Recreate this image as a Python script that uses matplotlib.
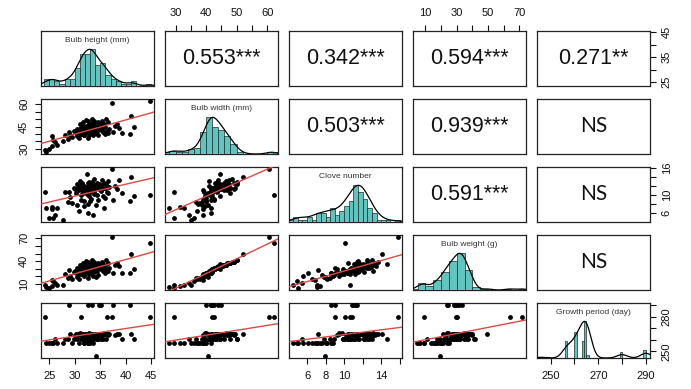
import numpy as np
import matplotlib
matplotlib.use("Agg")
import matplotlib.pyplot as plt

plt.rcParams['font.family'] = ['Liberation Sans', 'DejaVu Sans']

# ---------------- data (one entry per accession) ----------------
bulb_height = [24.2, 24.3, 24.9, 25.5, 25.8, 25.5, 26.5, 26.2, 27.6, 28.1,
               28.6, 29.1, 29.4, 29.8, 28.9, 30.2, 30.5, 30.7, 30.9, 30.4,
               30.8, 30.1, 31.0, 31.2, 31.3, 31.3, 31.5, 31.6, 31.7, 31.8,
               31.4, 31.9, 31.1, 31.6, 31.8, 31.5, 32.0, 32.2, 32.3, 32.4,
               32.5, 32.6, 32.6, 32.7, 32.8, 32.9, 32.1, 32.5, 32.8, 33.0,
               33.1, 33.2, 33.3, 33.4, 33.5, 33.5, 33.6, 33.7, 33.8, 33.2,
               33.9, 33.6, 33.3, 33.0, 33.8, 33.4, 33.7, 34.1, 34.2, 34.4,
               34.5, 34.7, 34.3, 34.8, 34.6, 35.0, 35.2, 35.4, 35.5, 35.6,
               35.3, 35.8, 35.1, 35.7, 35.9, 36.0, 36.3, 36.5, 36.8, 36.2,
               36.6, 37.2, 37.5, 37.8, 38.2, 38.6, 39.2, 40.8, 41.1, 41.6,
               44.7]
bulb_width = [29.5, 27.9, 29.6, 31.6, 35.9, 38.9, 32.7, 34.5, 35.1, 39.4,
              36.8, 39.5, 38.0, 42.0, 41.5, 40.5, 38.5, 43.0, 39.0, 43.5,
              37.0, 41.5, 42.0, 45.0, 40.0, 42.5, 46.0, 42.0, 48.0, 39.0,
              44.0, 41.0, 46.5, 41.5, 39.5, 44.5, 43.0, 45.5, 44.5, 41.5,
              49.0, 41.5, 44.0, 39.5, 47.0, 42.0, 49.5, 37.5, 43.5, 45.0,
              41.5, 46.5, 43.0, 47.5, 39.0, 44.0, 46.0, 41.0, 48.5, 42.5,
              44.5, 42.0, 50.0, 40.0, 43.5, 42.0, 47.0, 40.5, 45.5, 43.0,
              48.0, 45.0, 42.0, 44.0, 39.0, 46.0, 42.5, 47.5, 41.5, 44.5,
              49.0, 41.5, 43.5, 46.5, 40.0, 45.0, 42.0, 48.0, 43.5, 50.0,
              41.0, 60.7, 41.5, 45.5, 47.0, 44.0, 41.0, 39.9, 52.0, 44.7,
              62.2]
clove_number = [10.6, 7.1, 5.0, 7.4, 4.9, 6.9, 7.1, 5.5, 4.5, 10.6,
                8.5, 9.5, 8.2, 11.5, 10.8, 10.4, 7.8, 11.9, 11.2, 12.5,
                6.5, 11.4, 11.7, 12.3, 10.0, 9.0, 12.8, 11.0, 11.6, 8.8,
                11.3, 12.1, 13.1, 10.5, 7.6, 12.4, 11.1, 11.8, 14.6, 10.2,
                12.6, 6.1, 11.2, 9.8, 12.0, 10.6, 11.5, 8.0, 12.9, 11.7,
                10.9, 12.2, 11.4, 12.5, 5.6, 11.9, 11.2, 10.3, 13.7, 9.2,
                12.3, 11.6, 13.0, 8.6, 10.7, 11.4, 11.1, 7.9, 11.8, 12.7,
                11.5, 11.3, 10.0, 12.4, 8.9, 12.0, 11.0, 13.3, 9.9, 11.7,
                11.4, 7.2, 12.2, 12.8, 9.4, 11.5, 10.8, 10.4, 11.9, 12.5,
                13.1, 15.8, 9.0, 12.0, 11.4, 13.4, 10.4, 8.6, 14.1, 9.9,
                10.1]
bulb_weight = [9.1, 6.0, 4.7, 6.8, 13.4, 15.0, 9.0, 11.0, 9.0, 22.5,
               17.4, 21.0, 17.0, 26.0, 28.0, 24.0, 19.5, 30.0, 22.5, 31.0,
               16.0, 27.0, 29.0, 33.5, 23.0, 30.5, 35.0, 27.5, 37.5, 20.0,
               32.0, 26.0, 34.5, 28.5, 21.5, 33.0, 31.0, 34.0, 36.0, 26.5,
               38.5, 25.0, 31.5, 23.5, 36.5, 29.5, 40.0, 18.0, 32.5, 33.0,
               28.0, 35.5, 31.5, 37.0, 20.0, 32.5, 34.5, 26.0, 39.0, 30.0,
               33.0, 27.0, 41.0, 24.0, 31.0, 29.0, 36.0, 19.4, 34.5, 31.0,
               38.0, 33.5, 27.5, 32.0, 22.0, 35.0, 30.0, 37.5, 26.5, 33.0,
               39.5, 28.0, 32.0, 35.5, 24.5, 34.0, 29.5, 38.0, 31.5, 41.5,
               27.0, 71.7, 24.6, 35.0, 37.0, 33.0, 23.8, 23.8, 49.6, 30.0,
               64.0]
growth_period = [280, 257, 257, 257, 257, 257, 257, 261, 257, 261,
                 261, 265, 257, 261, 290, 265, 261, 265, 264, 265,
                 257, 264, 265, 265, 261, 280, 264, 265, 261, 257,
                 265, 261, 266, 264, 257, 265, 261, 265, 261, 264,
                 265, 257, 290, 266, 265, 261, 265, 257, 264, 265,
                 261, 265, 264, 265, 257, 265, 261, 261, 265, 264,
                 264, 265, 261, 257, 265, 290, 264, 246, 265, 261,
                 265, 290, 261, 264, 261, 265, 290, 264, 261, 265,
                 264, 265, 261, 265, 266, 265, 280, 265, 265, 261,
                 264, 280, 290, 264, 265, 265, 261, 290, 265, 261,
                 280]

var_names = ["Bulb height (mm)", "Bulb width (mm)", "Clove number",
             "Bulb weight (g)", "Growth period (day)"]
variables = [bulb_height, bulb_width, clove_number, bulb_weight, growth_period]

# upper-triangle correlation labels (row i, col j)
upper_labels = {
    (0, 1): "0.553***", (0, 2): "0.342***", (0, 3): "0.594***", (0, 4): "0.271**",
    (1, 2): "0.503***", (1, 3): "0.939***", (1, 4): "NS",
    (2, 3): "0.591***", (2, 4): "NS",
    (3, 4): "NS",
}

hist_step = [1.0, 2.0, 0.5, 5.0, 1.0]
kde_adjust = [1.0, 1.0, 1.0, 1.0, 2.0]

# axis tick positions and labels
tick_pos = [
    [25, 30, 35, 40, 45],
    [30, 35, 40, 45, 50, 55, 60],
    [6, 8, 10, 12, 14, 16],
    [10, 20, 30, 40, 50, 60, 70],
    [250, 260, 270, 280, 290],
]
xlabel_spec = {
    0: {25: "25", 30: "30", 35: "35", 40: "40", 45: "45"},
    1: {30: "30", 40: "40", 50: "50", 60: "60"},
    2: {6: "6", 8: "8", 10: "10", 14: "14"},
    3: {10: "10", 30: "30", 50: "50", 70: "70"},
    4: {250: "250", 270: "270", 290: "290"},
}
ylabel_spec = {
    0: {25: "25", 35: "35", 45: "45"},
    1: {30: "30", 45: "45", 60: "60"},
    2: {6: "6", 10: "10", 16: "16"},
    3: {10: "10", 40: "40", 70: "70"},
    4: {250: "250", 280: "280"},
}

# ---------------- figure ----------------
W_PX, H_PX = 691, 389
fig = plt.figure(figsize=(W_PX / 100, H_PX / 100), dpi=100)

n = len(variables)
arrs = [np.asarray(v, dtype=float) for v in variables]
lims = []
for a in arrs:
    r = a.max() - a.min()
    lims.append((a.min() - 0.04 * r, a.max() + 0.04 * r))

x0, y0, pw, ph, dx, dy = 41, 31, 113, 55, 124, 68
BAR = "#60C5BF"
RED = "#DC4A45"
tick_kw = dict(direction="out", length=4.5, width=0.8, labelsize=8, colors="#111111")


def rect(i, j):
    left = (x0 + dx * j) / W_PX
    bottom = 1 - (y0 + dy * i + ph) / H_PX
    return [left, bottom, pw / W_PX, ph / H_PX]


def kde_curve(a, grid, adjust):
    n_ = len(a)
    sd = a.std(ddof=1)
    q75, q25 = np.percentile(a, [75, 25])
    bw = adjust * 0.9 * min(sd, (q75 - q25) / 1.34) * n_ ** -0.2
    d = np.exp(-0.5 * ((grid[:, None] - a[None, :]) / bw) ** 2).sum(axis=1)
    return d / d.max()


for i in range(n):
    for j in range(n):
        ax = fig.add_axes(rect(i, j))
        ax.set_xlim(lims[j])
        ax.set_ylim(lims[i])
        ax.set_xticks([])
        ax.set_yticks([])
        for s in ax.spines.values():
            s.set_linewidth(0.9)
            s.set_color("#222222")
        ax.set_facecolor("white")

        if i > j:
            xs, ys = arrs[j], arrs[i]
            ax.scatter(xs, ys, s=12, c="black", linewidths=0, zorder=3)
            k, b = np.polyfit(xs, ys, 1)
            xl = np.array(lims[j])
            ax.plot(xl, k * xl + b, color=RED, lw=1.0, zorder=4)
        elif i < j:
            lab = upper_labels[(i, j)]
            if lab == "NS":
                ax.text(0.5, 0.5, lab, transform=ax.transAxes, ha="center",
                        va="center", fontsize=15, family=["Lato", "DejaVu Sans"],
                        color="#111111")
            else:
                ax.text(0.5, 0.5, lab, transform=ax.transAxes, ha="center",
                        va="center", fontsize=15.5,
                        family=["Liberation Sans", "DejaVu Sans"], color="#111111")
        else:
            a = arrs[i]
            ax2 = fig.add_axes(rect(i, j))
            ax2.set_xlim(lims[i])
            ax2.set_ylim(0, 1.5)
            ax2.axis("off")
            step = hist_step[i]
            start = np.floor(a.min() / step) * step
            if start >= a.min():
                start -= step
            edges = np.arange(start, a.max() + step * 1.01, step)
            counts, _ = np.histogram(a, bins=edges + 1e-9)
            hh = counts / counts.max()
            ax2.bar(edges[:-1], hh, width=step, align="edge", color=BAR,
                    edgecolor="#1c2b2a", linewidth=0.5, zorder=2)
            grid = np.linspace(lims[i][0], lims[i][1], 400)
            ax2.plot(grid, kde_curve(a, grid, kde_adjust[i]), color="black",
                     lw=0.9, zorder=3)
            ax2.text(0.5, 0.83, var_names[i], transform=ax2.transAxes,
                     ha="center", va="center", fontsize=6, color="#333333")

        # outer axes, R-pairs style alternation
        if i == 0 and j % 2 == 1:
            ax.xaxis.set_ticks_position("top")
            tk = tick_pos[j]
            ax.set_xticks(tk)
            ax.set_xticklabels([xlabel_spec[j].get(t, "") for t in tk])
            ax.tick_params(axis="x", pad=5, **tick_kw)
        if i == n - 1 and j % 2 == 0:
            tk = tick_pos[j]
            ax.set_xticks(tk)
            ax.set_xticklabels([xlabel_spec[j].get(t, "") for t in tk])
            ax.tick_params(axis="x", pad=5, **tick_kw)
        if j == n - 1 and i % 2 == 0:
            ax.yaxis.set_ticks_position("right")
            tk = [t for t in tick_pos[i] if lims[i][0] <= t <= lims[i][1]]
            ax.set_yticks(tk)
            ax.set_yticklabels([ylabel_spec[i].get(t, "") for t in tk],
                               rotation=90, va="center")
            ax.tick_params(axis="y", pad=4, **tick_kw)
        if j == 0 and i % 2 == 1:
            tk = tick_pos[i]
            ax.set_yticks(tk)
            ax.set_yticklabels([ylabel_spec[i].get(t, "") for t in tk],
                               rotation=90, va="center")
            ax.tick_params(axis="y", pad=4, **tick_kw)

fig.savefig("out.png", dpi=100, facecolor="white")
